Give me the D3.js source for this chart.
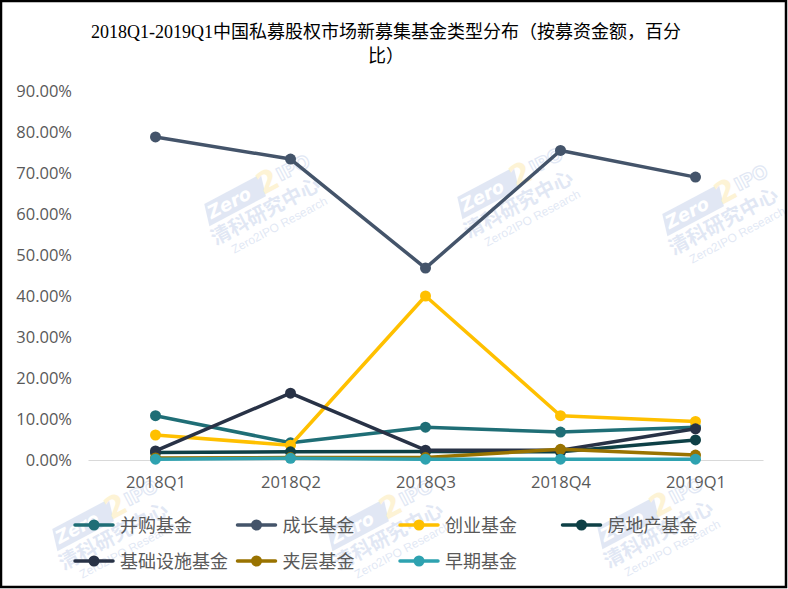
<!DOCTYPE html>
<html><head><meta charset="utf-8">
<script src="https://cdn.jsdelivr.net/npm/d3@7"></script>
<style>
html,body{margin:0;padding:0;background:#fff;}
svg{display:block;}
</style></head>
<body>
<svg id="chart" width="788" height="589"></svg>
<script>
const categories = ["2018Q1","2018Q2","2018Q3","2018Q4","2019Q1"];
const seriesNames = ["并购基金","成长基金","创业基金","房地产基金","基础设施基金","夹层基金","早期基金"];
const seriesColors = ["#1f6e76","#44546a","#ffc000","#0e4046","#283246","#997300","#2ea2b0"];
const bingGou    = [0.108, 0.042, 0.080, 0.068, 0.080];
const chengZhang = [0.788, 0.734, 0.468, 0.755, 0.690];
const chuangYe   = [0.061, 0.036, 0.400, 0.108, 0.094];
const fangDiChan = [0.018, 0.020, 0.021, 0.020, 0.049];
const jiChu      = [0.022, 0.163, 0.024, 0.024, 0.076];
const jiaCeng    = [0.005, 0.006, 0.006, 0.026, 0.012];
const zaoQi      = [0.002, 0.004, 0.002, 0.002, 0.002];
const seriesValues = [bingGou, chengZhang, chuangYe, fangDiChan, jiChu, jiaCeng, zaoQi];
const yTicks = [0,0.1,0.2,0.3,0.4,0.5,0.6,0.7,0.8,0.9];
const titleLines = ["2018Q1-2019Q1中国私募股权市场新募集基金类型分布（按募资金额，百分","比）"];

const svg = d3.select("#chart");
const W = 788, H = 589;

// watermarks (decorative, faint)
function watermark(cx, cy){
  const g = svg.append("g").attr("transform", `translate(${cx},${cy}) rotate(-28)`).attr("opacity",0.16);
  g.append("rect").attr("x",-58).attr("y",-28).attr("width",64).attr("height",22).attr("fill","#4a72c0").attr("transform","skewX(-15)");
  g.append("text").attr("x",-28).attr("y",-11).attr("text-anchor","middle").attr("font-family","DejaVu Sans").attr("font-weight","bold").attr("font-style","italic").attr("font-size",18).attr("fill","#fff").text("Zero");
  g.append("text").attr("x",16).attr("y",-8).attr("text-anchor","middle").attr("font-family","DejaVu Sans").attr("font-weight","bold").attr("font-size",30).attr("fill","#f5b800").text("2");
  g.append("text").attr("x",45).attr("y",-12).attr("text-anchor","middle").attr("font-family","DejaVu Sans").attr("font-weight","bold").attr("font-size",18).attr("fill","none").attr("stroke","#4a72c0").attr("stroke-width",1.3).text("IPO");
  g.append("text").attr("x",0).attr("y",14).attr("text-anchor","middle").attr("font-family","Noto Sans CJK SC").attr("font-weight","bold").attr("font-size",20).attr("fill","#4a72c0").text("清科研究中心");
  g.append("text").attr("x",6).attr("y",30).attr("text-anchor","middle").attr("font-family","Liberation Sans").attr("font-size",12).attr("fill","#4a72c0").text("Zero2IPO Research");
}
[[262,205],[515,198],[720,215],[110,530],[385,530],[655,528]].forEach(p=>watermark(p[0],p[1]));

// title
svg.append("text").attr("x",386).attr("y",38).attr("text-anchor","middle")
  .attr("font-family","'Liberation Serif','Noto Sans CJK SC'").attr("font-size",18).attr("fill","#000")
  .selectAll("tspan").data(titleLines).join("tspan").attr("x",386).attr("dy",(d,i)=>i===0?0:24).text(d=>d);

const x = d3.scalePoint().domain(categories).range([88,763]).padding(0.5);
const y = d3.scaleLinear().domain([0,0.9]).range([460,91]);

// y axis labels
const yAxis = d3.axisLeft(y).tickValues(yTicks).tickFormat(d3.format(".2%")).tickSize(0).tickPadding(0);
const yg = svg.append("g").attr("transform","translate(72,0)").call(yAxis);
yg.select(".domain").remove();
yg.selectAll("text").attr("font-family","'Open Sans','Liberation Sans'").attr("font-size",16.5).attr("fill","#595959");

// x axis
const xAxis = d3.axisBottom(x).tickSize(0).tickPadding(16);
const xg = svg.append("g").attr("transform","translate(0,460)").call(xAxis);
xg.select(".domain").attr("stroke","#d9d9d9").attr("stroke-width",1.2);
xg.selectAll("text").attr("font-family","'Open Sans','Liberation Sans'").attr("font-size",16.5).attr("fill","#595959");

// lines
const line = d3.line().x((d,i)=>x(categories[i])).y(d=>y(d));
seriesValues.forEach((vals,si)=>{
  const g = svg.append("g");
  g.append("path").datum(vals).attr("d",line).attr("fill","none").attr("stroke",seriesColors[si]).attr("stroke-width",3.5).attr("stroke-linejoin","round");
  g.selectAll("circle").data(vals).join("circle").attr("cx",(d,i)=>x(categories[i])).attr("cy",d=>y(d)).attr("r",5.5).attr("fill",seriesColors[si]);
});

// legend
const colX = [75,237.5,400,562.5];
const rowY = [525,561];
seriesNames.forEach((name,i)=>{
  const cx = colX[i%4], cy = rowY[Math.floor(i/4)];
  const g = svg.append("g").attr("transform",`translate(${cx},${cy})`);
  g.append("line").attr("x1",0).attr("x2",38).attr("y1",0).attr("y2",0).attr("stroke",seriesColors[i]).attr("stroke-width",3.5).attr("stroke-linecap","round");
  g.append("circle").attr("cx",19).attr("cy",0).attr("r",5.5).attr("fill",seriesColors[i]);
  g.append("text").attr("x",45).attr("y",6.5).attr("font-family","'Noto Sans CJK SC'").attr("font-size",18).attr("fill","#595959").text(name);
});

// border
svg.append("rect").attr("x",1).attr("y",1).attr("width",W-3).attr("height",H-3).attr("fill","none").attr("stroke","#000").attr("stroke-width",2.5);
</script>
</body></html>
